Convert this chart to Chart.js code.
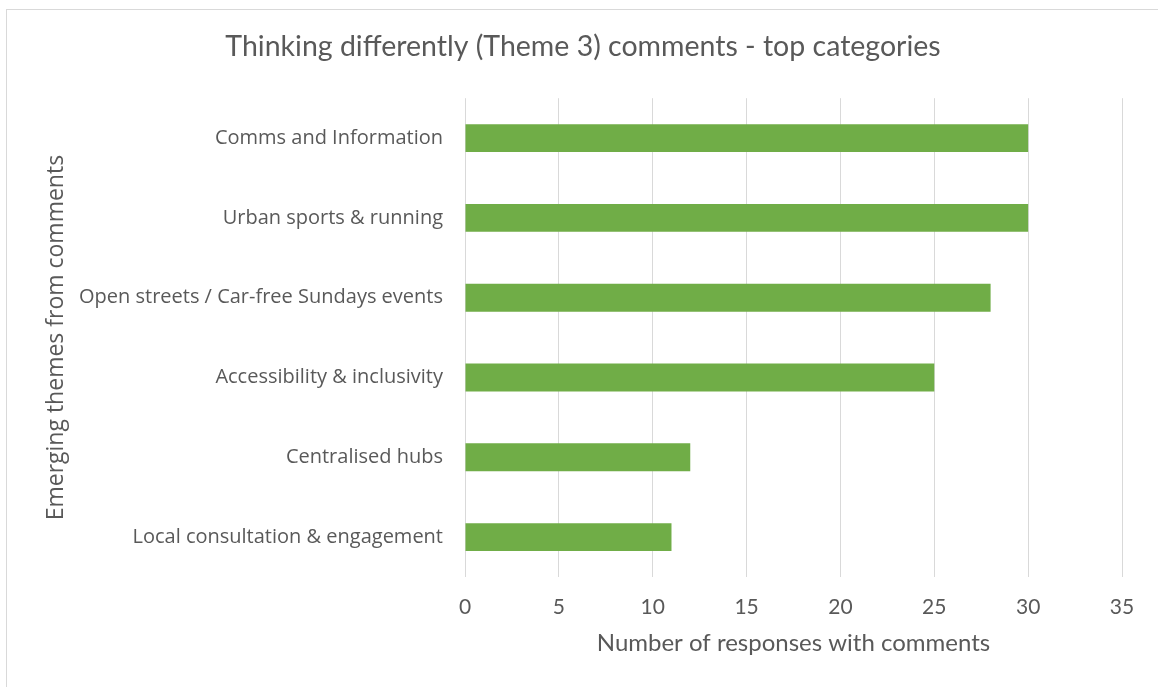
<!DOCTYPE html>
<html>
<head>
<meta charset="utf-8">
<script src="https://cdn.jsdelivr.net/npm/chart.js@4.4.1/dist/chart.umd.min.js"></script>
<style>
  html, body { margin: 0; padding: 0; background: #fff; overflow: hidden; }
  #frame {
    position: absolute;
    left: 6px;
    top: 9px;
    width: 1160px;
    height: 690px;
    border: 1px solid #d9d9d9;
    background: #fff;
  }
  #wrap { position: absolute; left: 0; top: 0; width: 1152px; height: 677px; }
</style>
</head>
<body>
<div id="frame"><div id="wrap"><canvas id="themes-chart"></canvas></div></div>
<script>
const categories = [
    'Comms and Information',
    'Urban sports & running',
    'Open streets / Car-free Sundays events',
    'Accessibility & inclusivity',
    'Centralised hubs',
    'Local consultation & engagement'
];
const responses = [30, 30, 28, 25, 12, 11];
const xTicks = [0, 5, 10, 15, 20, 25, 30, 35];

const textGrey = '#595959';
const themesChart = document.getElementById('themes-chart');

// keep the title centred on the whole canvas, not the padded layout
const fullWidthTitle = {
    id: 'fullWidthTitle',
    afterLayout(chart) {
        if (chart.titleBlock) {
            chart.titleBlock.left = 0;
            chart.titleBlock.right = chart.width;
        }
    }
};

new Chart(themesChart, {
    type: 'bar',
    data: {
        labels: categories,
        datasets: [
            {
                label: 'Number of responses with comments',
                data: responses,
                backgroundColor: '#70AD47',
                borderWidth: 0,
                categoryPercentage: 1,
                barPercentage: 0.35
            }
        ]
    },
    options: {
        indexAxis: 'y',
        responsive: true,
        maintainAspectRatio: false,
        animation: false,
        layout: {
            padding: { left: 0, right: 37, top: 0, bottom: 0 }
        },
        plugins: {
            legend: { display: false },
            tooltip: { enabled: false },
            title: {
                display: true,
                text: 'Thinking differently (Theme 3) comments - top categories',
                color: textGrey,
                font: { family: 'Lato', size: 28.5, weight: 400 },
                padding: { top: 20, bottom: 34 }
            }
        },
        scales: {
            x: {
                min: 0,
                max: 35,
                afterBuildTicks: (scale) => {
                    scale.ticks = xTicks.map(v => ({ value: v }));
                },
                afterFit: (scale) => { scale.height = 110; },
                border: { display: false },
                grid: { color: '#d9d9d9', lineWidth: 1, drawTicks: false },
                ticks: {
                    color: textGrey,
                    padding: 18,
                    font: { family: 'Lato', size: 21 }
                },
                title: {
                    display: true,
                    text: 'Number of responses with comments',
                    color: textGrey,
                    font: { family: 'Lato', size: 24 },
                    padding: { top: 0, bottom: 29 }
                }
            },
            y: {
                afterFit: (scale) => { scale.width = 458; },
                border: { display: false },
                grid: { display: false, drawTicks: false },
                ticks: {
                    color: textGrey,
                    padding: 22,
                    font: { family: 'Open Sans', size: 20 }
                },
                title: {
                    display: true,
                    text: 'Emerging themes from comments',
                    color: textGrey,
                    font: { family: 'Open Sans', size: 23 },
                    padding: { top: 36, bottom: 0 }
                }
            }
        }
    },
    plugins: [fullWidthTitle]
});
</script>
</body>
</html>
